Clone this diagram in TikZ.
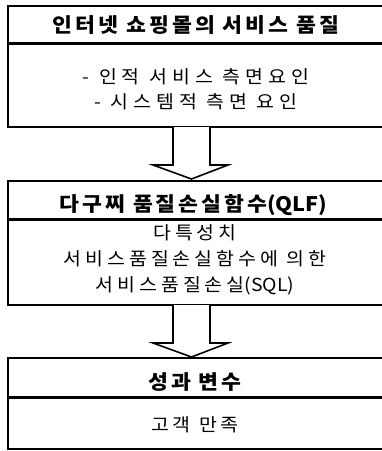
\documentclass[tikz,border=0pt]{standalone}
\usepackage{fontspec}
\usetikzlibrary{calc}
\newfontfamily\kr{Noto Sans CJK KR}[FakeStretch=1.08]
\newcommand{\hdr}{\kr\bfseries\fontsize{20}{22}\selectfont\addfontfeature{LetterSpace=15}}
\newcommand{\bdy}{\kr\fontsize{18}{25}\selectfont\addfontfeature{LetterSpace=22}}
\newcommand{\bdyw}{\kr\fontsize{18}{25}\selectfont\addfontfeature{LetterSpace=28}}
\newcommand{\tight}[1]{{\addfontfeature{LetterSpace=0}#1}}
\tikzset{
  frame/.style={draw=black, line width=1.6pt, fill=none, minimum width=376pt, inner sep=0pt, outer sep=0pt},
  divider/.style={line width=3pt},
  bigarrow/.style={draw=black, fill=white, line width=1.6pt, line join=miter},
  txt/.style={inner sep=0pt, outer sep=0pt, align=center, text=black}
}
\begin{document}
\begin{tikzpicture}[x=1pt,y=-1pt]
\useasboundingbox (0,0) rectangle (382,451);
\clip (0,0) rectangle (382,451);
\fill[white] (0,0) rectangle (382,451);
% box 1
\node[frame, minimum height=37pt] (h1) at (195.75,24.5) {};
\node[frame, minimum height=84pt] (b1) at (195.75,85) {};
% box 2
\node[frame, minimum height=38pt] (h2) at (195.75,200) {};
\node[frame, minimum height=86pt] (b2) at (195.75,262) {};
% box 3
\node[frame, minimum height=39pt] (h3) at (195.75,377.5) {};
\node[frame, minimum height=52pt] (b3) at (195.75,423) {};
% dividers
\draw[divider] (h1.south west) -- (h1.south east);
\draw[divider] (h2.south west) -- (h2.south east);
\draw[divider] (h3.south west) -- (h3.south east);
% arrows
\path (b1.south) ++(-4.25,0) coordinate (a1top);
\path (h2.north) ++(-4.25,-2) coordinate (a1tip);
\draw[bigarrow] let \p1=(a1top), \p2=(a1tip) in
  (\x1-18.5,\y1) -- (\x1-18.5,\y2+14) -- (\x1-38.5,\y2+14) -- (\x2,\y2)
  -- (\x1+36.5,\y2+14) -- (\x1+18.5,\y2+14) -- (\x1+18.5,\y1);
\path (b2.south) ++(-4.25,0) coordinate (a2top);
\path (h3.north) ++(-4.25,-1) coordinate (a2tip);
\draw[bigarrow] let \p1=(a2top), \p2=(a2tip) in
  (\x1-18.5,\y1) -- (\x1-18.5,\y2+14) -- (\x1-38.5,\y2+14) -- (\x2,\y2)
  -- (\x1+36.5,\y2+14) -- (\x1+18.5,\y2+14) -- (\x1+18.5,\y1);
% texts
\node[txt, font=\hdr] (t1) at (196,25) {인터넷 쇼핑몰의 서비스 품질};
\node[txt, font=\bdyw] (s1) at (196,89.5) {- 인적 서비스 측면요인\\- 시스템적 측면 요인};
\node[txt, font=\hdr] (t2) at (193.5,205) {다구찌 품질손실함수\tight{(QLF)}};
\node[txt, font=\bdy\fontsize{18}{26}\selectfont] (s2) at (195,259.5) {다특성치\\서비스품질손실함수에 의한\\서비스품질손실\tight{(SQL)}};
\node[txt, font=\hdr] (t3) at (195,382) {성과 변수};
\node[txt, font=\bdy] (s3) at (195,425) {고객 만족};
\end{tikzpicture}
\end{document}
